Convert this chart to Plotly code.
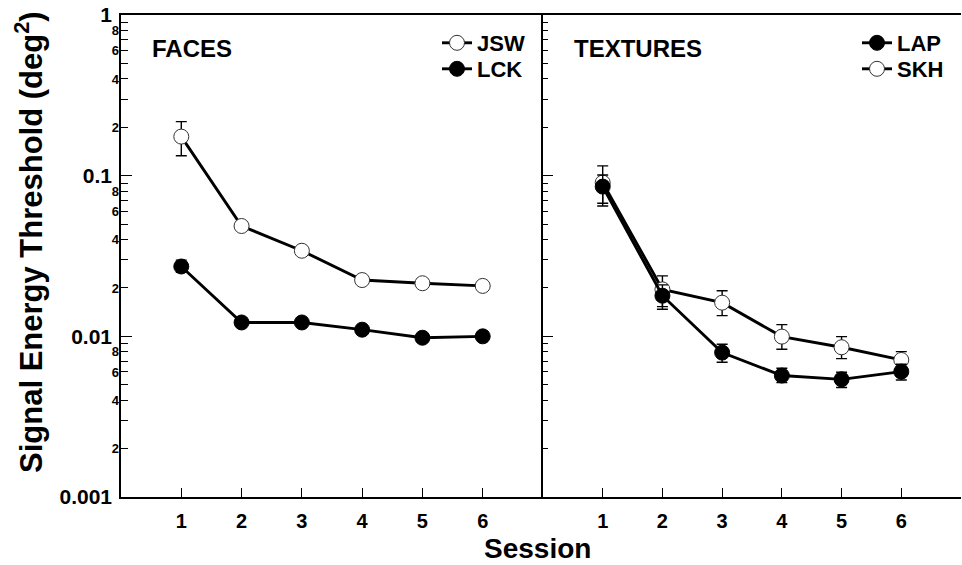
import plotly.graph_objects as go

# ---------------- data ----------------
sessions = [1, 2, 3, 4, 5, 6]

# FACES panel
jsw = [0.175, 0.0486, 0.0341, 0.0224, 0.0214, 0.0206]
jsw_hi = [0.217, 0.0500, 0.0345, 0.0228, 0.0218, 0.0210]
jsw_lo = [0.133, 0.0460, 0.0337, 0.0220, 0.0210, 0.0202]

lck = [0.0272, 0.0122, 0.0122, 0.0110, 0.0098, 0.0100]
lck_hi = [0.0298, 0.0124, 0.0124, 0.0112, 0.0100, 0.0102]
lck_lo = [0.0250, 0.0120, 0.0120, 0.0108, 0.0096, 0.0098]

# TEXTURES panel
lap = [0.0855, 0.0179, 0.00792, 0.00570, 0.00540, 0.00603]
lap_hi = [0.101, 0.0209, 0.00893, 0.00633, 0.00598, 0.00670]
lap_lo = [0.0648, 0.01475, 0.00690, 0.00515, 0.00480, 0.00535]

skh = [0.0905, 0.0196, 0.0162, 0.00996, 0.00855, 0.00713]
skh_hi = [0.115, 0.0238, 0.0192, 0.01183, 0.00996, 0.00803]
skh_lo = [0.0673, 0.0153, 0.01345, 0.00831, 0.00727, 0.00648]

decade_vals = [0.001, 0.01, 0.1, 1]
decade_text = ["0.001", "0.01", "0.1", "1"]
labeled_mult = [2, 4, 6, 8]
unlabeled_mult = [3, 5, 7, 9]
x_range = [0, 7]

FONT = "Liberation Sans"
BLACK = "#000000"

labeled_vals = [m * d for d in decade_vals[:-1] for m in labeled_mult]
labeled_text = [str(m) for d in decade_vals[:-1] for m in labeled_mult]
unlabeled_vals = [m * d for d in decade_vals[:-1] for m in unlabeled_mult]
all_minor_vals = sorted(labeled_vals + unlabeled_vals)


def err(vals, hi, lo):
    return dict(
        type="data",
        symmetric=False,
        array=[h - v for v, h in zip(vals, hi)],
        arrayminus=[v - l for v, l in zip(vals, lo)],
        color=BLACK,
        thickness=1.4,
        width=5.5,
    )


def trace(name, vals, hi, lo, filled, xa, ya, legend):
    return go.Scatter(
        x=sessions,
        y=vals,
        name=name,
        mode="lines+markers",
        xaxis=xa,
        yaxis=ya,
        legend=legend,
        line=dict(color=BLACK, width=2.9),
        marker=dict(
            symbol="circle",
            size=15,
            color=BLACK if filled else "white",
            line=dict(color="#333333" if not filled else BLACK, width=1),
        ),
        error_y=err(vals, hi, lo),
    )


fig = go.Figure()
fig.add_trace(trace("JSW", jsw, jsw_hi, jsw_lo, False, "x", "y", "legend"))
fig.add_trace(trace("LCK", lck, lck_hi, lck_lo, True, "x", "y", "legend2"))
fig.add_trace(trace("SKH", skh, skh_hi, skh_lo, False, "x2", "y2", "legend4"))
fig.add_trace(trace("LAP", lap, lap_hi, lap_lo, True, "x2", "y2", "legend3"))
# invisible helper trace so the overlaid labeled-minor-tick axis is drawn
fig.add_trace(go.Scatter(x=[], y=[], xaxis="x", yaxis="y3", showlegend=False, hoverinfo="skip"))

split = (543 - 121) / 840

axis_common = dict(showgrid=False, zeroline=False, showline=True, linecolor=BLACK,
                   linewidth=1.5, ticks="inside", tickcolor=BLACK, tickwidth=1.3)

xtick_font = dict(family=FONT, size=20, color=BLACK, weight="bold")
legend_font = dict(family=FONT, size=22, color=BLACK, weight="bold")


def leg(px_left, px_center_y):
    return dict(x=(px_left - 121) / 840, y=(497 - px_center_y) / 482,
                xanchor="left", yanchor="middle", bgcolor="rgba(0,0,0,0)",
                borderwidth=0, font=legend_font, itemwidth=30)


fig.update_layout(
    width=962,
    height=565,
    margin=dict(l=121, r=1, t=15, b=68),
    paper_bgcolor="white",
    plot_bgcolor="white",
    font=dict(family=FONT, color=BLACK),
    xaxis=dict(axis_common, domain=[0, split], range=x_range, tickvals=sessions,
               ticklen=9, mirror=True, anchor="y", tickfont=xtick_font,
               ticklabelstandoff=5),
    xaxis2=dict(axis_common, domain=[split, 1], range=x_range, tickvals=sessions,
                ticklen=9, mirror=True, anchor="y2", tickfont=xtick_font,
                ticklabelstandoff=5),
    yaxis=dict(axis_common, type="log", range=[-3, 0], tickvals=decade_vals,
               ticktext=decade_text, ticklen=11, anchor="x",
               tickfont=dict(family=FONT, size=21, color=BLACK, weight="bold"),
               ticklabelstandoff=3,
               minor=dict(tickvals=unlabeled_vals, ticks="inside", ticklen=7,
                          tickcolor=BLACK, tickwidth=1.3)),
    yaxis3=dict(showgrid=False, zeroline=False, showline=False, type="log",
                range=[-3, 0], overlaying="y", anchor="x", side="left",
                tickvals=labeled_vals, ticktext=labeled_text, ticks="inside",
                ticklen=7, tickwidth=1.3, tickcolor=BLACK,
                tickfont=dict(family=FONT, size=13, color=BLACK, weight="bold"),
                ticklabelstandoff=1),
    yaxis2=dict(axis_common, type="log", range=[-3, 0], tickvals=decade_vals,
                ticklen=10, anchor="x2", showticklabels=False,
                minor=dict(tickvals=all_minor_vals, ticks="inside", ticklen=5,
                           tickcolor=BLACK, tickwidth=1.3)),
    legend=leg(437, 43),
    legend2=leg(437, 69),
    legend3=leg(857, 43),
    legend4=leg(857, 69),
    showlegend=True,
)

fig.add_annotation(text="FACES", xref="x domain", yref="paper", x=(150 - 121) / 422,
                   y=(497 - 48.7) / 482, xanchor="left", yanchor="middle", showarrow=False,
                   font=dict(family=FONT, size=24, color=BLACK, weight="bold"))
fig.add_annotation(text="TEXTURES", xref="x2 domain", yref="paper", x=(572 - 543) / 418,
                   y=(497 - 48.7) / 482, xanchor="left", yanchor="middle", showarrow=False,
                   font=dict(family=FONT, size=24, color=BLACK, weight="bold"))
fig.add_annotation(text="Session", xref="paper", yref="paper", x=(537 - 121) / 840,
                   y=(497 - 548) / 482, xanchor="center", yanchor="middle", showarrow=False,
                   font=dict(family=FONT, size=28, color=BLACK, weight="bold"))
fig.add_annotation(text="Signal Energy Threshold (deg<sup>2</sup>)", xref="paper", yref="paper",
                   x=(29 - 121) / 840, y=(497 - 242) / 482, xanchor="center", yanchor="middle",
                   textangle=-90, showarrow=False,
                   font=dict(family=FONT, size=31, color=BLACK, weight="bold"))

fig.write_html("out.html")
